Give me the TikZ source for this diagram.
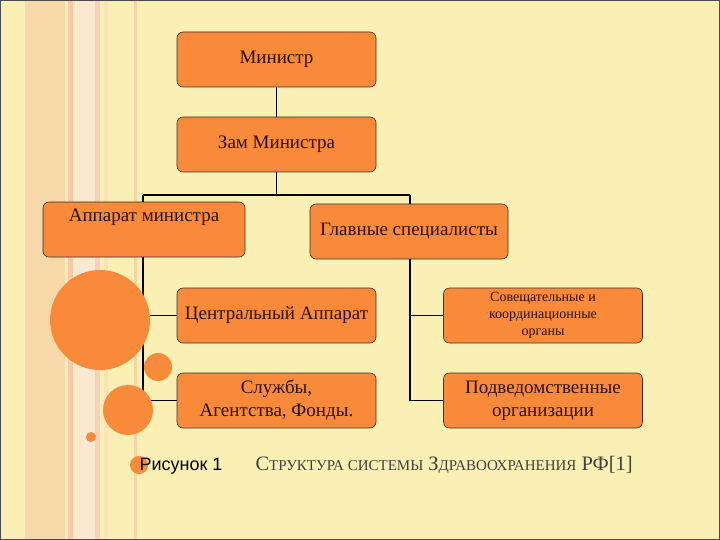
\documentclass[tikz,border=0pt]{standalone}
\usepackage{fontspec}
\setmainfont{Liberation Serif}
\newfontfamily\capsans{Liberation Sans}
\definecolor{boxor}{HTML}{F98A3A}
\definecolor{ballor}{HTML}{F98A3A}
\definecolor{bg}{HTML}{FBF0B4}
\definecolor{stA}{HTML}{F7D8A8}
\definecolor{stB}{HTML}{F9C8B0}
\definecolor{stC}{HTML}{FBE8D0}
\definecolor{stD}{HTML}{F9D0B8}
\definecolor{stE}{HTML}{F8E4B8}
\definecolor{stF}{HTML}{F7D5A8}
\definecolor{ink}{HTML}{2A1208}
\begin{document}
\begin{tikzpicture}[x=1pt,y=-1pt,
 box/.style={draw=black!80,line width=0.6pt,fill=boxor,rounded corners=6pt,minimum width=199pt,minimum height=55pt,align=center,inner sep=2pt,text=ink,font=\fontsize{19}{23}\selectfont},
 ln/.style={line width=1.6pt,black},
 ball/.style={fill=ballor,draw=none}]
\fill[bg] (0,0) rectangle (720,540);
\fill[stA] (25,0) rectangle (65,540);
\fill[stB] (68,0) rectangle (73,540);
\fill[stC] (75,0) rectangle (95,540);
\fill[stD] (95,0) rectangle (100,540);
\fill[stE] (104,0) rectangle (108,540);
\fill[stF] (134,0) rectangle (137,540);
\draw[black!70,line width=0.8pt] (0.5,0.5) rectangle (719.5,539.5);
\node[box] (m) at (276.5,59.5) {Министр};
\node[box] (z) at (276.5,144.5) {Зам Министра};
\node[box,minimum width=202pt] (a) at (144,229.5) {};
\node[text=ink,font=\fontsize{19}{23}\selectfont] (at) at (144,217) {Аппарат министра};
\node[box,minimum width=198pt] (g) at (409,231.5) {Главные специалисты};
\node[box] (c) at (276.5,315.5) {Центральный Аппарат};
\node[box] (s) at (276.5,400.5) {Службы,\\Агентства, Фонды.};
\node[box,font=\fontsize{14}{17}\selectfont] (k) at (543,315.5) {Совещательные и\\координационные\\органы};
\node[box] (p) at (543,400.5) {Подведомственные\\организации};
\coordinate (jl) at (143,195);
\coordinate (jr) at (410,195);
\draw[ln] (m.south) -- (z.north);
\draw[ln] (z.south) -- (276.5,195);
\draw[ln] (jl) -- (jr);
\draw[ln] (jl) -- (a.north -| jl);
\draw[ln] (jr) -- (g.north -| jr);
\draw[ln] (a.south -| jl) |- (s.west);
\draw[ln] (143,315.5) -- (c.west);
\draw[ln] (g.south -| jr) |- (p.west);
\draw[ln] (410,315.5) -- (k.west);
\fill[ball] (100,320) circle (50);
\fill[ball] (158,367) circle (14);
\fill[ball] (128,410) circle (25);
\fill[ball] (91,437) circle (5);
\fill[ball] (139,465) circle (9);
\node[font=\capsans\fontsize{18}{20}\selectfont,anchor=west] (r) at (136,466) {Рисунок 1};
\node[font=\fontsize{20.5}{23}\selectfont,anchor=west,text=black!75] (t) at (252,465) {С{\fontsize{15}{17}\selectfont ТРУКТУРА СИСТЕМЫ} З{\fontsize{15}{17}\selectfont ДРАВООХРАНЕНИЯ} РФ[1]};
\end{tikzpicture}
\end{document}
